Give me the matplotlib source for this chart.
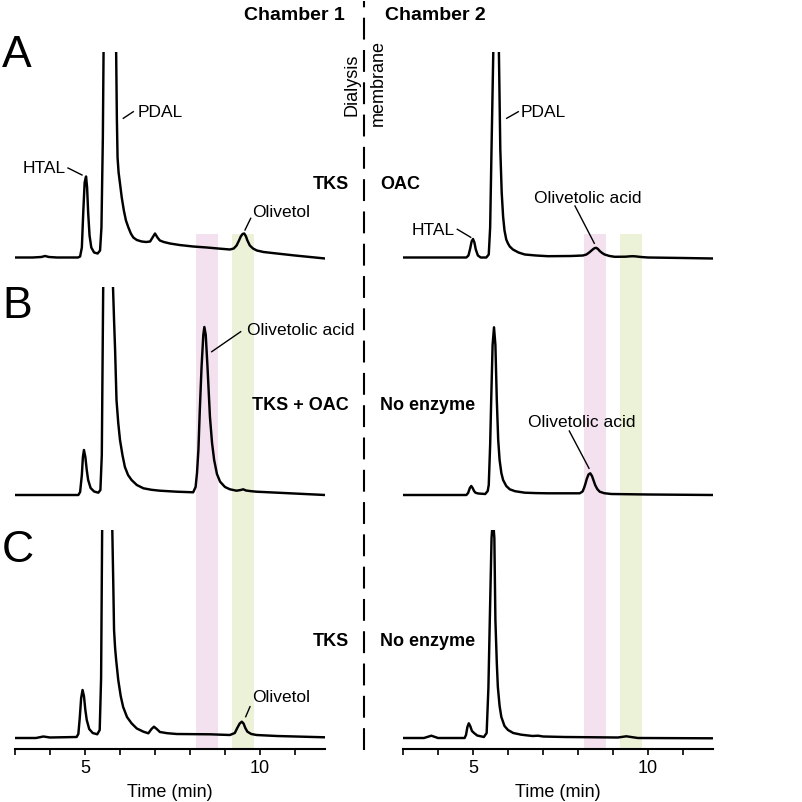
import matplotlib
matplotlib.use("Agg")
import matplotlib.pyplot as plt
from matplotlib.lines import Line2D

plt.rcParams['font.family'] = ['Liberation Sans', 'DejaVu Sans']

# ---------------- data (time in min, signal in arbitrary units) ----------------
t_A1 = [3.00, 3.50, 3.75, 3.86, 3.97, 4.20, 4.80, 4.86, 4.91, 4.95, 4.99, 5.03, 5.06, 5.09, 5.13,
        5.18, 5.26, 5.36, 5.43, 5.47, 5.51, 5.53, 5.72, 5.89, 5.91, 5.93, 5.96, 6.00, 6.05, 6.11,
        6.17, 6.24, 6.31, 6.38, 6.48, 6.62, 6.75, 6.86, 6.93, 7.00, 7.07, 7.14, 7.25, 7.43, 7.70,
        8.09, 8.48, 8.80, 9.14, 9.25, 9.33, 9.40, 9.45, 9.50, 9.55, 9.60, 9.64, 9.71, 9.80, 9.91,
        10.10, 10.48, 11.00, 11.86]
s_A1 = [0, 0, 0.5, 1.5, 0.5, 0, 0, 1, 10, 45, 75, 81, 70, 45, 22,
        10, 5, 4, 7, 30, 120, 205, 420, 205, 140, 100, 85, 74, 60, 47,
        37, 30, 24, 20, 17.5, 16, 15.5, 16, 20, 24, 20, 17, 15.5, 14, 12.5,
        11, 10, 9, 8, 9, 12, 17, 21, 23.5, 24, 21, 17, 12, 9, 7,
        5.5, 4, 2, -1]

t_A2 = [3.00, 4.00, 4.81, 4.87, 4.92, 4.96, 5.00, 5.04, 5.08, 5.14, 5.22, 5.38, 5.45, 5.49, 5.53,
        5.58, 5.66, 5.74, 5.78, 5.82, 5.86, 5.90, 5.95, 6.00, 6.05, 6.14, 6.30, 6.48, 6.80, 7.14,
        7.80, 8.14, 8.24, 8.32, 8.42, 8.47, 8.52, 8.57, 8.62, 8.69, 8.76, 8.90, 9.05, 9.35, 9.50,
        9.57, 9.65, 9.80, 10.00, 11.00, 11.86]
s_A2 = [0, 0, 0, 2, 9, 16, 18.5, 15, 8, 2, 0, 0, 3, 30, 110,
        206, 400, 206, 108, 65, 41, 27, 18, 14, 11, 8, 5, 3, 2, 1.3,
        1.5, 2, 3, 5, 8, 9.3, 9.7, 8.5, 6.5, 4.5, 3, 1.5, 0.7, 0.8, 1.2,
        1.3, 1.1, 0.5, 0, -0.5, -1]

t_B1 = [3.00, 4.00, 4.81, 4.86, 4.91, 4.94, 4.97, 5.01, 5.05, 5.09, 5.16, 5.26, 5.38, 5.44, 5.48,
        5.52, 5.66, 5.80, 5.83, 5.86, 5.90, 5.95, 6.00, 6.07, 6.14, 6.23, 6.33, 6.48, 6.67, 6.90,
        7.14, 7.62, 8.09, 8.16, 8.20, 8.24, 8.28, 8.33, 8.38, 8.41, 8.45, 8.50, 8.57, 8.63, 8.69,
        8.77, 8.86, 9.00, 9.14, 9.33, 9.45, 9.52, 9.60, 9.75, 9.90, 10.50, 11.86]
s_B1 = [0, 0, 0, 3, 20, 38, 45, 38, 25, 15, 7, 3.5, 2.3, 5, 40,
        208, 420, 208, 175, 145, 95, 72, 55, 40, 28, 20, 15, 10, 6.7, 5.2,
        4.3, 3.3, 2.7, 8, 22, 45, 85, 128, 160, 168, 160, 128, 78, 52, 35,
        21, 13.3, 8, 5.7, 4.3, 5, 5.7, 4.5, 3.8, 3.3, 2.3, 0]

t_B2 = [3.00, 4.00, 4.81, 4.86, 4.91, 4.95, 4.99, 5.03, 5.07, 5.15, 5.35, 5.42, 5.45, 5.49, 5.52,
        5.56, 5.60, 5.64, 5.68, 5.72, 5.76, 5.81, 5.86, 5.95, 6.05, 6.20, 6.48, 6.80, 7.14, 8.05,
        8.13, 8.17, 8.21, 8.25, 8.30, 8.35, 8.40, 8.45, 8.49, 8.55, 8.62, 8.75, 8.95, 10.00, 11.86]
s_B2 = [0, 0, 0, 2, 7, 9, 7, 4, 2.3, 1.5, 1, 4, 10, 50, 95,
        150, 167.7, 150, 95, 55, 35, 22, 15, 9, 5.7, 3.8, 2.3, 1.9, 1.7, 1.7,
        3.5, 6.7, 11, 16, 20.5, 21.7, 19, 14, 10, 6, 3.3, 1.8, 1, 0.5, 0]

t_C1 = [3.00, 3.60, 3.81, 4.00, 4.76, 4.81, 4.85, 4.89, 4.93, 4.97, 5.01, 5.05, 5.12, 5.22, 5.35,
        5.42, 5.46, 5.49, 5.64, 5.78, 5.81, 5.83, 5.86, 5.89, 5.95, 6.02, 6.09, 6.20, 6.33, 6.48,
        6.67, 6.81, 6.90, 6.97, 7.05, 7.14, 7.35, 7.62, 8.57, 9.14, 9.28, 9.35, 9.42, 9.48, 9.53,
        9.58, 9.64, 9.75, 9.90, 10.48, 11.86]
s_C1 = [0, 0, 1.5, 0.5, 1, 4, 20, 40, 48, 42, 28, 18, 9, 5, 3.7,
        8, 60, 208, 420, 208, 150, 108, 90, 78, 58, 42, 31, 21, 14.7, 9.5,
        6.3, 4.7, 9, 11.3, 9, 6, 4.8, 4, 3.7, 3, 5, 10, 14.5, 16.3, 14.5,
        10, 6.3, 4, 3, 2, 0.7]

t_C2 = [3.00, 3.60, 3.81, 4.00, 4.76, 4.80, 4.84, 4.88, 4.92, 4.97, 5.03, 5.12, 5.31, 5.39, 5.44,
        5.48, 5.53, 5.57, 5.61, 5.64, 5.68, 5.71, 5.76, 5.81, 5.90, 6.00, 6.15, 6.38, 6.70, 6.86,
        7.00, 7.62, 9.14, 9.38, 9.71, 11.86]
s_C2 = [0, 0, 2.3, 0, 0, 3, 11, 14.7, 12, 7, 5, 2.5, 1, 5, 50,
        118, 200, 220, 200, 118, 75, 51, 32, 21, 12, 8, 5, 3.3, 2, 2.3,
        1.5, 1, 0.5, 1.7, 0, -0.3]

band_olivetolic = (8.16, 8.79)
band_olivetol = (9.21, 9.84)

tick_positions = [3, 4, 5, 6, 7, 8, 9, 10, 11]
tick_labels = ['', '', '5', '', '', '', '', '10', '']

chamber1_labels = ['TKS', 'TKS + OAC', 'TKS']
chamber2_labels = ['OAC', 'No enzyme', 'No enzyme']
panel_letters = ['A', 'B', 'C']

# ---------------- layout ----------------
W = 802.0
fig = plt.figure(figsize=(8.02, 8.02), dpi=100)

def rect(x0, ytop, w, h):
    return [x0 / W, 1 - (ytop + h) / W, w / W, h / W]

def fx(x):
    return x / W

def fy(y):
    return 1 - y / W

PXMIN = 35.0
COL_X = [15, 403]
COL_W = 310
XLIM = (3, 3 + COL_W / PXMIN)
ROWS = [(52, 257.5), (287, 495), (530, 738)]   # (top clip, baseline) in px
PAD = 11

BAND_PINK = '#f3e1ef'
BAND_GREEN = '#ecf2d7'

# shaded bands (background axes spanning rows)
for cx in COL_X:
    bax = fig.add_axes(rect(cx, 234, COL_W, 749 - 234), zorder=0)
    bax.set_xlim(*XLIM)
    bax.set_ylim(0, 1)
    bax.axvspan(*band_olivetolic, color=BAND_PINK, lw=0)
    bax.axvspan(*band_olivetol, color=BAND_GREEN, lw=0)
    bax.axis('off')

traces = [[(t_A1, s_A1), (t_A2, s_A2)],
          [(t_B1, s_B1), (t_B2, s_B2)],
          [(t_C1, s_C1), (t_C2, s_C2)]]

for r, (top, base) in enumerate(ROWS):
    for c, cx in enumerate(COL_X):
        ax = fig.add_axes(rect(cx, top, COL_W, base - top + PAD), zorder=2)
        ax.patch.set_alpha(0)
        t, s = traces[r][c]
        ax.plot(t, s, color='black', lw=1.75, solid_joinstyle='round', solid_capstyle='round')
        ax.set_xlim(*XLIM)
        ax.set_ylim(-PAD, base - top)
        for sp in ['top', 'left', 'right']:
            ax.spines[sp].set_visible(False)
        ax.set_yticks([])
        if r == 2:
            ax.spines['bottom'].set_linewidth(1.5)
            ax.set_xticks(tick_positions)
            ax.set_xticklabels(tick_labels, fontsize=13)
            ax.tick_params(axis='x', direction='out', length=4, width=1.2, pad=4)
            ax.set_xlabel('Time (min)', fontsize=13, labelpad=5)
        else:
            ax.spines['bottom'].set_visible(False)
            ax.set_xticks([])

# dashed membrane line
fig.add_artist(Line2D([fx(364), fx(364)], [fy(750), fy(1)], color='black', lw=1.5,
                      linestyle=(0, (10.5, 5.0)), transform=fig.transFigure))

# headers
fig.text(fx(345), fy(20), 'Chamber 1', ha='right', va='baseline', fontsize=14, fontweight='bold')
fig.text(fx(385), fy(20), 'Chamber 2', ha='left', va='baseline', fontsize=14, fontweight='bold')
fig.text(fx(352), fy(85), 'Dialysis', rotation=90, ha='center', va='center', fontsize=13)
fig.text(fx(378), fy(83), 'membrane', rotation=90, ha='center', va='center', fontsize=13)

# panel letters
for letter, yb in zip(panel_letters, [67, 318, 562]):
    fig.text(fx(2), fy(yb), letter, ha='left', va='baseline', fontsize=32)

# condition labels
for lab1, lab2, yb in zip(chamber1_labels, chamber2_labels, [189, 410.5, 646]):
    fig.text(fx(349), fy(yb), lab1, ha='right', va='baseline', fontsize=13, fontweight='bold')
    fig.text(fx(380), fy(yb), lab2, ha='left', va='baseline', fontsize=13, fontweight='bold')

# peak annotations: (text, x, baseline y, ha, leader x0, y0, x1, y1) in px
annots = [
    ('HTAL', 66, 173.3, 'right', 68, 168, 82, 175),
    ('PDAL', 137.7, 117.3, 'left', 123.3, 118.3, 133.3, 111.7),
    ('Olivetol', 252, 216.7, 'left', 245, 230, 250.7, 218.3),
    ('HTAL', 455, 235, 'right', 457.3, 229.3, 470.7, 237.3),
    ('PDAL', 520.7, 116.7, 'left', 506.7, 118.3, 518.3, 111.7),
    ('Olivetolic acid', 534, 202.7, 'left', 575, 206, 594.3, 243.3),
    ('Olivetolic acid', 246.7, 335, 'left', 211.7, 351.7, 240.7, 331.7),
    ('Olivetolic acid', 528.3, 427.3, 'left', 569.3, 431, 589, 468.3),
    ('Olivetol', 252.3, 701.7, 'left', 245.7, 716.7, 250, 706.7),
]
for txt, x, yb, ha, x0, y0, x1, y1 in annots:
    fig.text(fx(x), fy(yb), txt, ha=ha, va='baseline', fontsize=12.5)
    fig.add_artist(Line2D([fx(x0), fx(x1)], [fy(y0), fy(y1)], color='black', lw=1.0,
                          transform=fig.transFigure))

fig.savefig('out.png', dpi=100)
